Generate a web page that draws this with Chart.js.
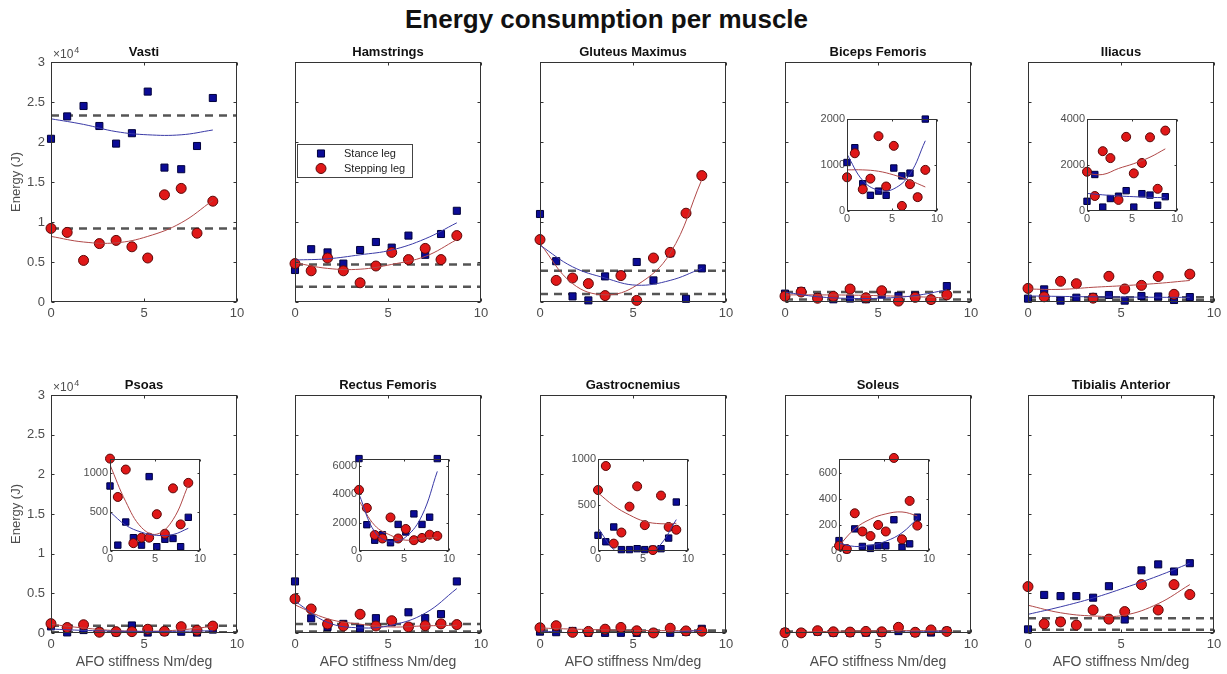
<!DOCTYPE html>
<html>
<head>
<meta charset="utf-8">
<script src="https://cdn.jsdelivr.net/npm/chart.js@4"></script>
<style>
  body { margin: 0; background: #fff; width: 1227px; height: 674px; position: relative; overflow: hidden;
         font-family: "Liberation Sans", Arial, sans-serif; }
  #title { position: absolute; left: -7px; top: 4px; width: 1227px; text-align: center;
           font-weight: bold; font-size: 26px; color: #111; }
  canvas { position: absolute; }
</style>
</head>
<body>
<div id="title">Energy consumption per muscle</div>
<script>
// AFO stiffness settings (Nm/deg) and the points the quadratic fits are traced through
const stiffness = [0, 0.87, 1.75, 2.6, 3.5, 4.35, 5.2, 6.1, 7.0, 7.85, 8.7];
const fitStiffness = [0, 1.75, 3.5, 5.2, 7.0, 8.7];

const mainXTicks = [0, 5, 10];
const mainYTicks = [0, 5000, 10000, 15000, 20000, 25000, 30000];
const insetXTicks = [0, 5, 10];

// energy (J) per muscle: stance leg, stepping leg, their fits and the two reference levels
const vastiStance = [20400, 23200, 24500, 22000, 19800, 21100, 26300, 16800, 16600, 19500, 25500];
const vastiStepping = [9200, 8700, 5200, 7300, 7700, 6900, 5500, 13400, 14200, 8600, 12600];
const vastiStanceFit = [22900, 22200, 21300, 20900, 20900, 21500];
const vastiSteppingFit = [8200, 7500, 7400, 8200, 9900, 12700];
const vastiLevels = [23300, 9200];

const hamStance = [4000, 6600, 6200, 4800, 6500, 7500, 6800, 8300, 5900, 8500, 11400];
const hamStepping = [4800, 3900, 5500, 3900, 2400, 4500, 6200, 5300, 6700, 5300, 8300];
const hamStanceFit = [5250, 5400, 5900, 6500, 7900, 9900];
const hamSteppingFit = [4900, 4200, 4100, 4700, 5700, 7800];
const hamLevels = [4700, 1900];

const gluteStance = [11000, 5100, 700, 200, 3200, 3400, 5000, 2700, 6100, 400, 4200];
const gluteStepping = [7800, 2700, 3000, 2300, 800, 3300, 200, 5500, 6200, 11100, 15800];
const gluteStanceFit = [7100, 4400, 3000, 2100, 2700, 4200];
const gluteSteppingFit = [7300, 2300, 900, 2100, 6100, 15300];
const gluteLevels = [3900, 1000];

const bicepsStance = [1050, 1370, 590, 340, 430, 340, 930, 760, 820, 300, 1990];
const bicepsStepping = [730, 1250, 470, 700, 1620, 530, 1410, 110, 580, 300, 890];
const bicepsStanceFit = [1230, 660, 450, 480, 800, 1520];
const bicepsSteppingFit = [890, 890, 860, 780, 660, 520];
const bicepsLevels = [1250, 300];
const bicepsInsetRange = [0, 2000];
const bicepsInsetTicks = [0, 1000, 2000];

const iliacusStance = [420, 1580, 170, 540, 640, 880, 170, 750, 690, 250, 620];
const iliacusStepping = [1700, 650, 2590, 2290, 480, 3210, 1630, 2080, 3190, 960, 3480];
const iliacusStanceFit = [760, 700, 650, 620, 590, 580];
const iliacusSteppingFit = [1620, 1580, 1840, 2050, 2330, 2690];
const iliacusLevels = [600, 250];
const iliacusInsetRange = [0, 4000];
const iliacusInsetTicks = [0, 2000, 4000];

const psoasStance = [830, 75, 370, 170, 75, 950, 55, 150, 160, 55, 430];
const psoasStepping = [1180, 690, 1040, 100, 170, 170, 470, 220, 800, 340, 870];
const psoasStanceFit = [500, 330, 240, 200, 210, 290];
const psoasSteppingFit = [1100, 630, 300, 215, 400, 840];
const psoasLevels = [900, 80];
const psoasInsetRange = [0, 1180];
const psoasInsetTicks = [0, 500, 1000];

const rectusStance = [6500, 1850, 760, 1150, 580, 1870, 1340, 2610, 1870, 2380, 6500];
const rectusStepping = [4300, 3030, 1130, 880, 2360, 880, 1550, 760, 920, 1150, 1060];
const rectusStanceFit = [4000, 1340, 650, 990, 2500, 5600];
const rectusSteppingFit = [3540, 1800, 1110, 760, 900, 970];
const rectusLevels = [1150, 200];
const rectusInsetRange = [0, 6500];
const rectusInsetTicks = [0, 2000, 4000, 6000];

const gastroStance = [170, 100, 260, 15, 15, 25, 15, 20, 25, 140, 530];
const gastroStepping = [660, 920, 80, 200, 480, 700, 280, 10, 600, 260, 230];
const gastroStanceFit = [250, 15, -95, -75, 75, 340];
const gastroSteppingFit = [630, 490, 390, 320, 295, 300];
const gastroLevels = [300, 80];
const gastroInsetRange = [0, 1000];
const gastroInsetTicks = [0, 500, 1000];

const soleusStance = [80, 10, 170, 35, 20, 40, 40, 240, 30, 55, 260];
const soleusStepping = [40, 15, 290, 150, 115, 200, 150, 715, 90, 385, 195];
const soleusStanceFit = [60, 35, 45, 75, 140, 250];
const soleusSteppingFit = [40, 170, 245, 285, 300, 270];
const soleusLevels = [200, 60];
const soleusInsetRange = [0, 710];
const soleusInsetTicks = [0, 200, 400, 600];

const tibStance = [460, 4800, 4650, 4650, 4450, 5900, 1700, 7900, 8650, 7750, 8800];
const tibStepping = [5850, 1150, 1400, 1000, 2900, 1750, 2700, 6100, 2900, 6100, 4850];
const tibStanceFit = [2350, 3300, 4400, 5700, 7200, 8800];
const tibSteppingFit = [3500, 2550, 2150, 2250, 3700, 6100];
const tibLevels = [1850, 420];

const panels = [
  { name: 'Vasti', stance: vastiStance, stepping: vastiStepping, stanceFit: vastiStanceFit, steppingFit: vastiSteppingFit, levels: vastiLevels },
  { name: 'Hamstrings', stance: hamStance, stepping: hamStepping, stanceFit: hamStanceFit, steppingFit: hamSteppingFit, levels: hamLevels, legend: true },
  { name: 'Gluteus Maximus', stance: gluteStance, stepping: gluteStepping, stanceFit: gluteStanceFit, steppingFit: gluteSteppingFit, levels: gluteLevels },
  { name: 'Biceps Femoris', stance: bicepsStance, stepping: bicepsStepping, stanceFit: bicepsStanceFit, steppingFit: bicepsSteppingFit, levels: bicepsLevels,
    inset: { range: bicepsInsetRange, ticks: bicepsInsetTicks, left: 847, top: 117 } },
  { name: 'Iliacus', stance: iliacusStance, stepping: iliacusStepping, stanceFit: iliacusStanceFit, steppingFit: iliacusSteppingFit, levels: iliacusLevels,
    inset: { range: iliacusInsetRange, ticks: iliacusInsetTicks, left: 1087, top: 117 } },
  { name: 'Psoas', stance: psoasStance, stepping: psoasStepping, stanceFit: psoasStanceFit, steppingFit: psoasSteppingFit, levels: psoasLevels,
    inset: { range: psoasInsetRange, ticks: psoasInsetTicks, left: 110, top: 457 } },
  { name: 'Rectus Femoris', stance: rectusStance, stepping: rectusStepping, stanceFit: rectusStanceFit, steppingFit: rectusSteppingFit, levels: rectusLevels,
    inset: { range: rectusInsetRange, ticks: rectusInsetTicks, left: 359, top: 457 } },
  { name: 'Gastrocnemius', stance: gastroStance, stepping: gastroStepping, stanceFit: gastroStanceFit, steppingFit: gastroSteppingFit, levels: gastroLevels,
    inset: { range: gastroInsetRange, ticks: gastroInsetTicks, left: 598, top: 457 } },
  { name: 'Soleus', stance: soleusStance, stepping: soleusStepping, stanceFit: soleusStanceFit, steppingFit: soleusSteppingFit, levels: soleusLevels,
    inset: { range: soleusInsetRange, ticks: soleusInsetTicks, left: 839, top: 457 } },
  { name: 'Tibialis Anterior', stance: tibStance, stepping: tibStepping, stanceFit: tibStanceFit, steppingFit: tibSteppingFit, levels: tibLevels },
];

// subplot grid
const COL_LEFT = [51, 295, 540, 785, 1028];
const ROW_TOP = [62, 395];
const BOX_W = 186;
const BOX_H = [240, 238];
const INSET_W = 90, INSET_H = 94;

const BLUE = '#0b0b96', BLUE_EDGE = '#00003c';
const RED = '#e01818', RED_EDGE = '#5a0808';
const TICK_GREY = '#4d4d4d';

Chart.defaults.font.family = "'Liberation Sans', Arial, sans-serif";
Chart.defaults.color = TICK_GREY;

function addCanvas(x, y, w, h) {
  const c = document.createElement('canvas');
  c.width = w; c.height = h;
  c.style.left = x + 'px'; c.style.top = y + 'px';
  c.style.width = w + 'px'; c.style.height = h + 'px';
  document.body.appendChild(c);
  return c;
}

const pts = (xs, ys) => xs.map((x, i) => ({ x: x, y: ys[i] }));
const fixedTicks = list => scale => { scale.ticks = list.map(v => ({ value: v })); };

function drawMarker(ctx, style, x, y, r) {
  ctx.beginPath();
  if (style === 'rect') {
    const s = r * Math.SQRT1_2;
    ctx.rect(x - s, y - s, 2 * s, 2 * s);
    ctx.fillStyle = BLUE; ctx.strokeStyle = BLUE_EDGE;
  } else {
    ctx.arc(x, y, r, 0, Math.PI * 2);
    ctx.fillStyle = RED; ctx.strokeStyle = RED_EDGE;
  }
  ctx.fill(); ctx.lineWidth = 1; ctx.stroke();
}

// axes box with inward ticks, plus the x10^4 note and the in-plot legend
const frame = {
  id: 'frame',
  beforeDraw(chart, args, opts) {
    if (!opts.fill) return;
    const a = chart.chartArea;
    chart.ctx.save();
    chart.ctx.fillStyle = '#fff';
    chart.ctx.fillRect(a.left, a.top, a.right - a.left, a.bottom - a.top);
    chart.ctx.restore();
  },
  afterDraw(chart, args, opts) {
    const { ctx, chartArea: a, scales } = chart;
    const L = Math.round(a.left) + 0.5, R = Math.round(a.right) - 0.5;
    const T = Math.round(a.top) + 0.5, B = Math.round(a.bottom) - 0.5;
    ctx.save();
    ctx.strokeStyle = '#333';
    ctx.lineWidth = 1;
    ctx.strokeRect(L, T, R - L, B - T);
    const tl = opts.tick || 3;
    ctx.beginPath();
    opts.xTicks.forEach(v => {
      const px = Math.round(scales.x.getPixelForValue(v)) + 0.5;
      ctx.moveTo(px, B); ctx.lineTo(px, B - tl);
      ctx.moveTo(px, T); ctx.lineTo(px, T + tl);
    });
    opts.yTicks.forEach(v => {
      const py = Math.round(scales.y.getPixelForValue(v)) + 0.5;
      ctx.moveTo(L, py); ctx.lineTo(L + tl, py);
      ctx.moveTo(R, py); ctx.lineTo(R - tl, py);
    });
    ctx.stroke();

    if (opts.exponent) {
      ctx.fillStyle = TICK_GREY;
      ctx.textBaseline = 'middle';
      ctx.textAlign = 'left';
      ctx.font = "12px 'Liberation Sans', Arial, sans-serif";
      ctx.fillText('\u00d710', a.left + 2, a.top - 7);
      const w = ctx.measureText('\u00d710').width;
      ctx.font = "9px 'Liberation Sans', Arial, sans-serif";
      ctx.fillText('4', a.left + 3 + w, a.top - 11);
    }

    if (opts.legend) {
      const lx = a.left + 2, ly = a.top + 82;
      ctx.fillStyle = '#fff';
      ctx.fillRect(lx, ly, 115, 33);
      ctx.strokeStyle = '#444';
      ctx.strokeRect(Math.round(lx) + 0.5, Math.round(ly) + 0.5, 115, 33);
      drawMarker(ctx, 'rect', lx + 24, ly + 9.5, 5);
      drawMarker(ctx, 'circle', lx + 24, ly + 24.5, 5);
      ctx.fillStyle = '#222';
      ctx.textAlign = 'left';
      ctx.textBaseline = 'middle';
      ctx.font = "11px 'Liberation Sans', Arial, sans-serif";
      ctx.fillText('Stance leg', lx + 47, ly + 9.5);
      ctx.fillText('Stepping leg', lx + 47, ly + 24.5);
    }
    ctx.restore();
  }
};

function seriesDatasets(p, radius, withLevels) {
  const sets = [];
  if (withLevels) {
    p.levels.forEach(lv => sets.push({
      data: [{ x: 0, y: lv }, { x: 10, y: lv }],
      showLine: true, borderColor: '#555', borderWidth: 2.5, borderDash: [8, 6],
      pointRadius: 0, order: 3
    }));
  }
  sets.push({
    label: 'Stance leg', data: pts(stiffness, p.stance), pointStyle: 'rect', pointRadius: radius,
    backgroundColor: BLUE, borderColor: BLUE_EDGE, borderWidth: 1, order: 2, clip: 8
  });
  sets.push({
    label: 'Stepping leg', data: pts(stiffness, p.stepping), pointStyle: 'circle', pointRadius: radius,
    backgroundColor: RED, borderColor: RED_EDGE, borderWidth: 1, order: 1, clip: 8
  });
  sets.push({
    data: pts(fitStiffness, p.stanceFit), showLine: true, tension: 0.4,
    borderColor: '#3a3aa6', borderWidth: 1, pointRadius: 0, order: 0
  });
  sets.push({
    data: pts(fitStiffness, p.steppingFit), showLine: true, tension: 0.4,
    borderColor: '#b04848', borderWidth: 1, pointRadius: 0, order: 0
  });
  return sets;
}

function drawPanel(p, i) {
  const col = i % 5, row = Math.floor(i / 5);
  const first = col === 0, bottom = row === 1;
  const padL = first ? 0 : 12, axisW = first ? 51 : 0;
  const titleH = 24, axisH = bottom ? 42 : 24, padR = 14;
  const x0 = COL_LEFT[col] - axisW - padL;
  const y0 = ROW_TOP[row] - titleH;
  const canvas = addCanvas(x0, y0, padL + axisW + BOX_W + padR, titleH + BOX_H[row] + axisH);

  new Chart(canvas, {
    type: 'scatter',
    data: { datasets: seriesDatasets(p, 5, true) },
    plugins: [frame],
    options: {
      responsive: false,
      devicePixelRatio: 1,
      animation: false,
      events: [],
      layout: { padding: { left: padL, right: padR, top: 0, bottom: 0 } },
      scales: {
        x: {
          type: 'linear', min: 0, max: 10,
          afterBuildTicks: fixedTicks(mainXTicks),
          afterFit: s => { s.height = axisH; },
          grid: { display: false, drawTicks: false },
          border: { display: false },
          ticks: { font: { size: 13 }, color: TICK_GREY, padding: 4, maxRotation: 0 },
          title: { display: bottom, text: 'AFO stiffness Nm/deg', font: { size: 14 }, color: TICK_GREY,
                   padding: { top: 0, bottom: 4 } }
        },
        y: {
          type: 'linear', min: 0, max: 30000, display: first,
          afterBuildTicks: fixedTicks(mainYTicks),
          afterFit: s => { s.width = axisW; },
          grid: { display: false, drawTicks: false },
          border: { display: false },
          ticks: { font: { size: 13 }, color: TICK_GREY, padding: 6, callback: v => v / 10000 },
          title: { display: true, text: 'Energy (J)', font: { size: 13 }, color: TICK_GREY,
                   padding: { top: 9, bottom: 0 } }
        }
      },
      plugins: {
        legend: { display: false },
        tooltip: { enabled: false },
        title: {
          display: true, text: p.name, fullSize: false, color: '#111',
          font: { size: 13, weight: 'bold' }, padding: { top: 6.5, bottom: 1.9 }
        },
        frame: { xTicks: mainXTicks, yTicks: mainYTicks, exponent: first, legend: !!p.legend }
      }
    }
  });

  if (p.inset) drawInset(p);
}

function drawInset(p) {
  const s = p.inset;
  const axisW = 30, axisH = 15, padT = 7, padR = 8;
  const canvas = addCanvas(s.left - axisW, s.top - padT, axisW + INSET_W + padR, padT + INSET_H + axisH);
  new Chart(canvas, {
    type: 'scatter',
    data: { datasets: seriesDatasets(p, 4.5, false) },
    plugins: [frame],
    options: {
      responsive: false,
      devicePixelRatio: 1,
      animation: false,
      events: [],
      layout: { padding: { left: 0, right: padR, top: padT, bottom: 0 } },
      scales: {
        x: {
          type: 'linear', min: 0, max: 10,
          afterBuildTicks: fixedTicks(insetXTicks),
          afterFit: sc => { sc.height = axisH; },
          grid: { display: false, drawTicks: false },
          border: { display: false },
          ticks: { font: { size: 11 }, color: TICK_GREY, padding: 1, maxRotation: 0, callback: v => String(v) }
        },
        y: {
          type: 'linear', min: s.range[0], max: s.range[1],
          afterBuildTicks: fixedTicks(s.ticks),
          afterFit: sc => { sc.width = axisW; },
          grid: { display: false, drawTicks: false },
          border: { display: false },
          ticks: { font: { size: 11 }, color: TICK_GREY, padding: 2, callback: v => String(v) }
        }
      },
      plugins: {
        legend: { display: false },
        tooltip: { enabled: false },
        frame: { xTicks: insetXTicks, yTicks: s.ticks, fill: true, tick: 2 }
      }
    }
  });
}

panels.forEach(drawPanel);
</script>
</body>
</html>
